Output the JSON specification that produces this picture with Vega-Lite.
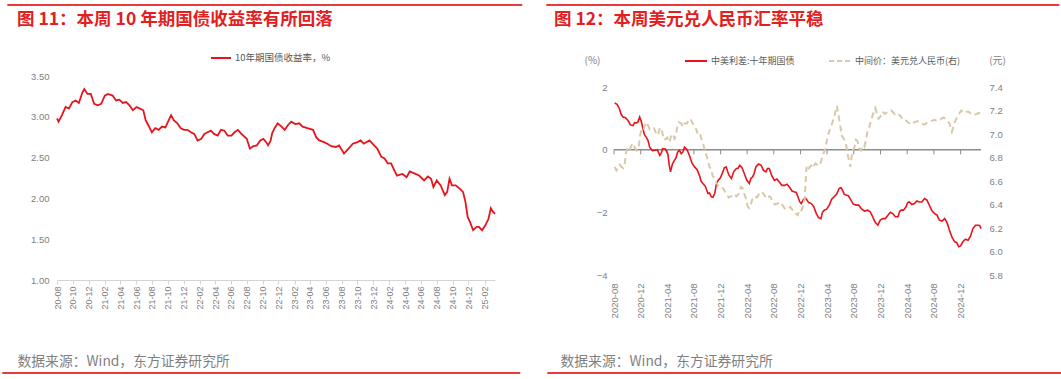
{
"$schema": "https://vega.github.io/schema/vega-lite/v6.json",
"padding": {"left": 2, "top": 4, "right": 0, "bottom": 0},
"background": "white",
"config": {"view": {"stroke": null}, "font": "Noto Sans CJK SC", "axis": {"labelFont": "Liberation Sans", "grid": false, "titleFont": "Noto Sans CJK SC", "titleFontWeight": "normal", "labelOverlap": false, "labelFlush": false}},
"resolve": {"scale": {"color": "independent", "x": "independent", "y": "independent"}, "legend": {"color": "independent"}},
"datasets": {
"cgb": [
{"d":"2020-08-01","v":2.98},{"d":"2020-08-07","v":2.94},{"d":"2020-08-20","v":3.02},{"d":"2020-09-03","v":3.12},{"d":"2020-09-16","v":3.10},{"d":"2020-09-29","v":3.18},{"d":"2020-10-12","v":3.20},{"d":"2020-10-24","v":3.17},{"d":"2020-11-07","v":3.30},{"d":"2020-11-14","v":3.34},{"d":"2020-11-26","v":3.28},{"d":"2020-12-09","v":3.28},{"d":"2020-12-22","v":3.16},{"d":"2021-01-05","v":3.14},{"d":"2021-01-18","v":3.16},{"d":"2021-02-01","v":3.26},{"d":"2021-02-13","v":3.28},{"d":"2021-03-03","v":3.26},{"d":"2021-03-16","v":3.20},{"d":"2021-03-29","v":3.21},{"d":"2021-04-11","v":3.17},{"d":"2021-04-24","v":3.18},{"d":"2021-05-07","v":3.14},{"d":"2021-05-20","v":3.08},{"d":"2021-06-03","v":3.12},{"d":"2021-06-16","v":3.10},{"d":"2021-06-29","v":3.08},{"d":"2021-07-08","v":2.96},{"d":"2021-07-18","v":2.90},{"d":"2021-08-01","v":2.81},{"d":"2021-08-14","v":2.86},{"d":"2021-08-27","v":2.84},{"d":"2021-09-09","v":2.88},{"d":"2021-09-22","v":2.87},{"d":"2021-10-05","v":2.96},{"d":"2021-10-14","v":3.02},{"d":"2021-10-24","v":2.96},{"d":"2021-11-07","v":2.92},{"d":"2021-11-20","v":2.86},{"d":"2021-12-03","v":2.84},{"d":"2021-12-16","v":2.84},{"d":"2021-12-29","v":2.81},{"d":"2022-01-11","v":2.79},{"d":"2022-01-24","v":2.71},{"d":"2022-02-07","v":2.73},{"d":"2022-02-19","v":2.79},{"d":"2022-03-03","v":2.81},{"d":"2022-03-16","v":2.83},{"d":"2022-03-28","v":2.79},{"d":"2022-04-11","v":2.77},{"d":"2022-04-24","v":2.84},{"d":"2022-05-07","v":2.83},{"d":"2022-05-20","v":2.77},{"d":"2022-06-03","v":2.77},{"d":"2022-06-15","v":2.81},{"d":"2022-06-28","v":2.84},{"d":"2022-07-11","v":2.79},{"d":"2022-08-01","v":2.73},{"d":"2022-08-13","v":2.61},{"d":"2022-08-26","v":2.64},{"d":"2022-09-09","v":2.65},{"d":"2022-09-22","v":2.71},{"d":"2022-10-04","v":2.73},{"d":"2022-10-17","v":2.68},{"d":"2022-10-22","v":2.65},{"d":"2022-11-01","v":2.71},{"d":"2022-11-07","v":2.80},{"d":"2022-11-16","v":2.86},{"d":"2022-11-28","v":2.92},{"d":"2022-12-13","v":2.88},{"d":"2022-12-25","v":2.84},{"d":"2023-01-07","v":2.90},{"d":"2023-01-19","v":2.94},{"d":"2023-02-04","v":2.91},{"d":"2023-02-19","v":2.92},{"d":"2023-03-04","v":2.88},{"d":"2023-03-22","v":2.86},{"d":"2023-04-13","v":2.84},{"d":"2023-04-25","v":2.75},{"d":"2023-05-07","v":2.71},{"d":"2023-05-25","v":2.69},{"d":"2023-06-07","v":2.67},{"d":"2023-06-22","v":2.64},{"d":"2023-07-10","v":2.63},{"d":"2023-07-22","v":2.65},{"d":"2023-08-10","v":2.55},{"d":"2023-08-25","v":2.60},{"d":"2023-09-13","v":2.67},{"d":"2023-10-01","v":2.69},{"d":"2023-10-13","v":2.71},{"d":"2023-10-25","v":2.67},{"d":"2023-11-16","v":2.71},{"d":"2023-12-04","v":2.65},{"d":"2023-12-16","v":2.61},{"d":"2024-01-01","v":2.51},{"d":"2024-01-13","v":2.49},{"d":"2024-01-25","v":2.43},{"d":"2024-02-07","v":2.43},{"d":"2024-02-19","v":2.35},{"d":"2024-03-01","v":2.28},{"d":"2024-03-22","v":2.30},{"d":"2024-04-07","v":2.26},{"d":"2024-04-19","v":2.33},{"d":"2024-05-04","v":2.31},{"d":"2024-05-25","v":2.28},{"d":"2024-06-13","v":2.22},{"d":"2024-06-28","v":2.27},{"d":"2024-07-10","v":2.24},{"d":"2024-07-19","v":2.14},{"d":"2024-08-01","v":2.22},{"d":"2024-08-16","v":2.16},{"d":"2024-09-01","v":2.04},{"d":"2024-09-10","v":2.08},{"d":"2024-09-19","v":2.24},{"d":"2024-09-28","v":2.16},{"d":"2024-10-13","v":2.16},{"d":"2024-10-28","v":2.12},{"d":"2024-11-10","v":2.08},{"d":"2024-11-19","v":1.96},{"d":"2024-11-28","v":1.77},{"d":"2024-12-07","v":1.71},{"d":"2024-12-19","v":1.61},{"d":"2025-01-01","v":1.65},{"d":"2025-01-10","v":1.65},{"d":"2025-01-22","v":1.61},{"d":"2025-02-04","v":1.67},{"d":"2025-02-16","v":1.75},{"d":"2025-02-25","v":1.88},{"d":"2025-03-04","v":1.84},{"d":"2025-03-13","v":1.81}
],
"spread": [
{"d":"2020-08-04","v":1.49},{"d":"2020-08-26","v":1.30},{"d":"2020-09-11","v":1.04},{"d":"2020-10-04","v":0.93},{"d":"2020-10-27","v":0.77},{"d":"2020-11-11","v":0.85},{"d":"2020-11-26","v":1.04},{"d":"2020-12-11","v":0.67},{"d":"2020-12-26","v":0.40},{"d":"2021-01-11","v":0.08},{"d":"2021-02-04","v":-0.02},{"d":"2021-02-26","v":-0.18},{"d":"2021-03-11","v":0.03},{"d":"2021-04-04","v":-0.13},{"d":"2021-04-16","v":-0.71},{"d":"2021-05-04","v":-0.34},{"d":"2021-05-19","v":-0.07},{"d":"2021-06-04","v":-0.13},{"d":"2021-06-19","v":0.08},{"d":"2021-07-11","v":-0.18},{"d":"2021-08-04","v":-0.55},{"d":"2021-08-26","v":-0.82},{"d":"2021-09-11","v":-1.08},{"d":"2021-10-04","v":-1.40},{"d":"2021-10-19","v":-1.50},{"d":"2021-11-04","v":-1.40},{"d":"2021-11-19","v":-0.98},{"d":"2021-12-11","v":-0.71},{"d":"2021-12-26","v":-0.55},{"d":"2022-01-19","v":-0.92},{"d":"2022-02-11","v":-0.60},{"d":"2022-02-26","v":-0.50},{"d":"2022-03-19","v":-0.76},{"d":"2022-04-11","v":-1.08},{"d":"2022-04-26","v":-0.87},{"d":"2022-05-11","v":-0.55},{"d":"2022-06-04","v":-0.50},{"d":"2022-06-26","v":-0.71},{"d":"2022-07-11","v":-0.60},{"d":"2022-08-04","v":-0.98},{"d":"2022-08-26","v":-1.03},{"d":"2022-09-19","v":-1.14},{"d":"2022-10-11","v":-1.19},{"d":"2022-11-04","v":-1.35},{"d":"2022-11-19","v":-1.50},{"d":"2022-12-04","v":-1.72},{"d":"2022-12-26","v":-1.56},{"d":"2023-01-19","v":-1.72},{"d":"2023-02-11","v":-2.04},{"d":"2023-03-04","v":-2.20},{"d":"2023-03-19","v":-1.93},{"d":"2023-04-11","v":-1.77},{"d":"2023-05-04","v":-1.50},{"d":"2023-05-26","v":-1.24},{"d":"2023-06-11","v":-1.30},{"d":"2023-06-26","v":-1.45},{"d":"2023-07-19","v":-1.61},{"d":"2023-08-11","v":-1.77},{"d":"2023-09-04","v":-1.88},{"d":"2023-10-04","v":-1.93},{"d":"2023-10-26","v":-2.14},{"d":"2023-11-19","v":-2.41},{"d":"2023-12-11","v":-2.20},{"d":"2024-01-04","v":-2.09},{"d":"2024-01-26","v":-2.04},{"d":"2024-02-19","v":-2.14},{"d":"2024-03-04","v":-1.93},{"d":"2024-03-26","v":-1.83},{"d":"2024-04-11","v":-1.67},{"d":"2024-05-04","v":-1.72},{"d":"2024-05-26","v":-1.67},{"d":"2024-06-19","v":-1.56},{"d":"2024-07-11","v":-1.77},{"d":"2024-08-04","v":-2.04},{"d":"2024-08-26","v":-2.25},{"d":"2024-09-19","v":-2.20},{"d":"2024-10-11","v":-2.57},{"d":"2024-11-04","v":-2.94},{"d":"2024-11-22","v":-3.10},{"d":"2024-12-11","v":-2.94},{"d":"2025-01-04","v":-2.89},{"d":"2025-01-26","v":-2.52},{"d":"2025-02-19","v":-2.41},{"d":"2025-03-04","v":-2.52},
{"d":"2020-08-15","v":1.45},{"d":"2020-09-03","v":1.12},{"d":"2020-09-22","v":1.02},{"d":"2020-10-15","v":0.79},{"d":"2020-11-03","v":0.86},{"d":"2020-11-18","v":0.88},{"d":"2020-12-03","v":0.92},{"d":"2020-12-18","v":0.48},{"d":"2021-01-03","v":0.30},{"d":"2021-01-23","v":-0.03},{"d":"2021-02-15","v":0.00},{"d":"2021-03-04","v":-0.12},{"d":"2021-03-23","v":0.02},{"d":"2021-04-10","v":-0.48},{"d":"2021-04-25","v":-0.45},{"d":"2021-05-11","v":-0.26},{"d":"2021-05-27","v":-0.02},{"d":"2021-06-11","v":-0.08},{"d":"2021-06-30","v":0.01},{"d":"2021-07-23","v":-0.42},{"d":"2021-08-15","v":-0.63},{"d":"2021-09-03","v":-1.01},{"d":"2021-09-22","v":-1.17},{"d":"2021-10-11","v":-1.38},{"d":"2021-10-27","v":-1.52},{"d":"2021-11-11","v":-1.12},{"d":"2021-11-30","v":-0.90},{"d":"2021-12-18","v":-0.58},{"d":"2022-01-07","v":-0.80},{"d":"2022-01-30","v":-0.70},{"d":"2022-02-18","v":-0.60},{"d":"2022-03-08","v":-0.57},{"d":"2022-03-30","v":-0.97},{"d":"2022-04-18","v":-0.92},{"d":"2022-05-03","v":-0.76},{"d":"2022-05-23","v":-0.46},{"d":"2022-06-15","v":-0.66},{"d":"2022-07-03","v":-0.60},{"d":"2022-07-23","v":-0.84},{"d":"2022-08-15","v":-0.94},{"d":"2022-09-07","v":-1.14},{"d":"2022-09-30","v":-1.10},{"d":"2022-10-23","v":-1.32},{"d":"2022-11-11","v":-1.36},{"d":"2022-11-27","v":-1.66},{"d":"2022-12-15","v":-1.58},{"d":"2023-01-07","v":-1.69},{"d":"2023-01-30","v":-1.82},{"d":"2023-02-21","v":-2.17},{"d":"2023-03-11","v":-2.00},{"d":"2023-03-30","v":-1.90},{"d":"2023-04-22","v":-1.58},{"d":"2023-05-15","v":-1.42},{"d":"2023-06-03","v":-1.21},{"d":"2023-06-18","v":-1.42},{"d":"2023-07-07","v":-1.47},{"d":"2023-07-30","v":-1.74},{"d":"2023-08-23","v":-1.77},{"d":"2023-09-19","v":-1.96},{"d":"2023-10-15","v":-1.98},{"d":"2023-11-07","v":-2.32},{"d":"2023-11-30","v":-2.25},{"d":"2023-12-23","v":-2.20},{"d":"2024-01-15","v":-2.00},{"d":"2024-02-07","v":-2.14},{"d":"2024-02-26","v":-1.98},{"d":"2024-03-15","v":-1.93},{"d":"2024-04-03","v":-1.69},{"d":"2024-04-22","v":-1.75},{"d":"2024-05-15","v":-1.64},{"d":"2024-06-07","v":-1.67},{"d":"2024-06-30","v":-1.61},{"d":"2024-07-23","v":-1.95},{"d":"2024-08-15","v":-2.09},{"d":"2024-09-07","v":-2.28},{"d":"2024-09-30","v":-2.33},{"d":"2024-10-23","v":-2.80},{"d":"2024-11-13","v":-2.96},{"d":"2024-12-01","v":-3.07},{"d":"2024-12-23","v":-2.86},{"d":"2025-01-15","v":-2.76},{"d":"2025-02-07","v":-2.41},{"d":"2025-02-26","v":-2.42}
],
"fx": [
{"d":"2020-08-04","v":6.72},{"d":"2020-08-19","v":6.71},{"d":"2020-09-04","v":6.72},{"d":"2020-09-19","v":6.75},{"d":"2020-10-01","v":6.88},{"d":"2020-10-19","v":6.90},{"d":"2020-11-04","v":6.88},{"d":"2020-11-22","v":6.89},{"d":"2020-12-04","v":7.03},{"d":"2020-12-19","v":7.07},{"d":"2021-01-04","v":7.07},{"d":"2021-01-19","v":7.05},{"d":"2021-02-11","v":7.00},{"d":"2021-02-26","v":7.05},{"d":"2021-03-11","v":7.00},{"d":"2021-03-26","v":6.96},{"d":"2021-04-07","v":6.93},{"d":"2021-04-19","v":6.99},{"d":"2021-05-04","v":6.96},{"d":"2021-05-16","v":7.05},{"d":"2021-06-04","v":7.09},{"d":"2021-06-19","v":7.09},{"d":"2021-07-11","v":7.13},{"d":"2021-07-26","v":7.09},{"d":"2021-08-19","v":7.00},{"d":"2021-09-04","v":6.96},{"d":"2021-09-19","v":6.86},{"d":"2021-10-11","v":6.72},{"d":"2021-10-26","v":6.64},{"d":"2021-11-11","v":6.59},{"d":"2021-12-04","v":6.55},{"d":"2021-12-26","v":6.49},{"d":"2022-01-19","v":6.47},{"d":"2022-02-11","v":6.47},{"d":"2022-03-04","v":6.55},{"d":"2022-03-19","v":6.49},{"d":"2022-04-04","v":6.38},{"d":"2022-04-19","v":6.41},{"d":"2022-05-04","v":6.47},{"d":"2022-05-26","v":6.49},{"d":"2022-06-19","v":6.48},{"d":"2022-07-11","v":6.47},{"d":"2022-07-26","v":6.42},{"d":"2022-08-19","v":6.41},{"d":"2022-09-11","v":6.39},{"d":"2022-10-04","v":6.37},{"d":"2022-10-26","v":6.35},{"d":"2022-11-11","v":6.32},{"d":"2022-11-26","v":6.35},{"d":"2022-12-11","v":6.38},{"d":"2022-12-20","v":6.45},{"d":"2022-12-28","v":6.72},{"d":"2023-01-04","v":6.69},{"d":"2023-01-19","v":6.73},{"d":"2023-01-26","v":6.71},{"d":"2023-02-19","v":6.73},{"d":"2023-03-11","v":6.81},{"d":"2023-04-01","v":6.95},{"d":"2023-04-19","v":7.06},{"d":"2023-05-04","v":7.15},{"d":"2023-05-16","v":7.24},{"d":"2023-05-26","v":7.13},{"d":"2023-06-07","v":6.99},{"d":"2023-06-19","v":6.95},{"d":"2023-07-04","v":6.83},{"d":"2023-07-16","v":6.72},{"d":"2023-07-26","v":6.86},{"d":"2023-08-11","v":6.95},{"d":"2023-08-26","v":6.88},{"d":"2023-09-11","v":6.90},{"d":"2023-09-26","v":6.95},{"d":"2023-10-11","v":7.06},{"d":"2023-10-26","v":7.16},{"d":"2023-11-07","v":7.22},{"d":"2023-11-22","v":7.13},{"d":"2023-12-11","v":7.19},{"d":"2024-01-04","v":7.19},{"d":"2024-02-04","v":7.17},{"d":"2024-02-26","v":7.16},{"d":"2024-03-11","v":7.12},{"d":"2024-04-04","v":7.10},{"d":"2024-05-04","v":7.10},{"d":"2024-06-04","v":7.09},{"d":"2024-07-04","v":7.10},{"d":"2024-08-04","v":7.12},{"d":"2024-09-04","v":7.13},{"d":"2024-09-26","v":7.12},{"d":"2024-10-11","v":7.09},{"d":"2024-10-22","v":7.02},{"d":"2024-11-04","v":7.10},{"d":"2024-11-19","v":7.16},{"d":"2024-12-04","v":7.20},{"d":"2024-12-26","v":7.19},{"d":"2025-01-19","v":7.17},{"d":"2025-02-11","v":7.17},{"d":"2025-03-04","v":7.17},
{"d":"2020-08-12","v":6.69},{"d":"2020-08-27","v":6.74},{"d":"2020-09-12","v":6.71},{"d":"2020-09-25","v":6.84},{"d":"2020-10-10","v":6.86},{"d":"2020-10-27","v":6.92},{"d":"2020-11-13","v":6.86},{"d":"2020-11-28","v":6.99},{"d":"2020-12-11","v":7.02},{"d":"2020-12-27","v":7.10},{"d":"2021-01-11","v":7.04},{"d":"2021-01-31","v":7.05},{"d":"2021-02-18","v":6.99},{"d":"2021-03-05","v":7.05},{"d":"2021-03-18","v":6.95},{"d":"2021-04-01","v":6.97},{"d":"2021-04-13","v":6.94},{"d":"2021-04-27","v":7.00},{"d":"2021-05-10","v":6.98},{"d":"2021-05-25","v":7.10},{"d":"2021-06-11","v":7.06},{"d":"2021-06-30","v":7.09},{"d":"2021-07-18","v":7.12},{"d":"2021-08-07","v":7.06},{"d":"2021-08-27","v":7.01},{"d":"2021-09-11","v":6.93},{"d":"2021-09-30","v":6.80},{"d":"2021-10-18","v":6.70},{"d":"2021-11-03","v":6.63},{"d":"2021-11-22","v":6.55},{"d":"2021-12-15","v":6.53},{"d":"2022-01-07","v":6.46},{"d":"2022-01-30","v":6.49},{"d":"2022-02-21","v":6.49},{"d":"2022-03-11","v":6.54},{"d":"2022-03-27","v":6.45},{"d":"2022-04-11","v":6.37},{"d":"2022-04-26","v":6.45},{"d":"2022-05-15","v":6.46},{"d":"2022-06-07","v":6.51},{"d":"2022-06-30","v":6.45},{"d":"2022-07-18","v":6.46},{"d":"2022-08-07","v":6.40},{"d":"2022-08-30","v":6.42},{"d":"2022-09-22","v":6.36},{"d":"2022-10-15","v":6.38},{"d":"2022-11-03","v":6.34},{"d":"2022-11-18","v":6.31},{"d":"2022-12-03","v":6.34},{"d":"2023-01-11","v":6.72},{"d":"2023-02-07","v":6.75},{"d":"2023-03-01","v":6.74},{"d":"2023-03-21","v":6.86},{"d":"2023-04-10","v":7.02},{"d":"2023-06-26","v":6.92},{"d":"2023-08-03","v":6.88},{"d":"2023-08-18","v":6.94},{"d":"2023-09-03","v":6.86},{"d":"2023-09-18","v":6.89},{"d":"2023-10-03","v":7.03},{"d":"2023-12-01","v":7.15},{"d":"2023-12-22","v":7.17},{"d":"2024-01-19","v":7.20},{"d":"2024-02-15","v":7.18},{"d":"2024-03-03","v":7.15},{"d":"2024-03-23","v":7.12},{"d":"2024-04-19","v":7.08},{"d":"2024-05-19","v":7.11},{"d":"2024-06-19","v":7.08},{"d":"2024-07-19","v":7.11},{"d":"2024-08-19","v":7.11},{"d":"2024-09-15","v":7.14},{"d":"2024-12-15","v":7.18},{"d":"2025-01-07","v":7.19},{"d":"2025-01-30","v":7.16},{"d":"2025-02-21","v":7.18}
],
"ticks": [
{"d":"2020-08-01"},{"d":"2020-12-01"},{"d":"2021-04-01"},{"d":"2021-08-01"},{"d":"2021-12-01"},{"d":"2022-04-01"},{"d":"2022-08-01"},{"d":"2022-12-01"},{"d":"2023-04-01"},{"d":"2023-08-01"},{"d":"2023-12-01"},{"d":"2024-04-01"},{"d":"2024-08-01"},{"d":"2024-12-01"}
],
"zero": [{"d":"2020-08-01","e":"2025-03-04"}],
"seg": [{"a": 0, "b": 1}]
},
"spacing": 23,
"hconcat": [
{
"resolve": {"scale": {"color": "independent", "x": "independent"}, "legend": {"color": "independent"}},
"spacing": 4,
"vconcat": [
{"width": 438, "height": 2, "data": {"name": "seg"}, "mark": {"type": "rect", "color": "#e8393b"}, "encoding": {"x": {"field": "a", "type": "quantitative", "scale": {"domain": [0.0965, 0.947], "nice": false, "zero": false}, "axis": null}, "x2": {"field": "b"}}},
{
"width": 438, "height": 204,
"title": {"text": "图 11：本周 10 年期国债收益率有所回落", "anchor": "start", "frame": "group", "dx": -40, "offset": 19, "fontSize": 17.5, "fontWeight": "bold", "color": "#e3201e", "font": "Noto Sans CJK SC"},
"data": {"name": "cgb"},
"mark": {"type": "line", "strokeWidth": 1.8, "color": "#e8141b"},
"encoding": {
"x": {"field": "d", "type": "temporal", "scale": {"domain": [{"year": 2020, "month": 8, "date": 1}, {"year": 2025, "month": 3, "date": 13}]},
"axis": {"values": [{"year":2020,"month":8,"date":1},{"year":2020,"month":10,"date":1},{"year":2020,"month":12,"date":1},{"year":2021,"month":2,"date":1},{"year":2021,"month":4,"date":1},{"year":2021,"month":6,"date":1},{"year":2021,"month":8,"date":1},{"year":2021,"month":10,"date":1},{"year":2021,"month":12,"date":1},{"year":2022,"month":2,"date":1},{"year":2022,"month":4,"date":1},{"year":2022,"month":6,"date":1},{"year":2022,"month":8,"date":1},{"year":2022,"month":10,"date":1},{"year":2022,"month":12,"date":1},{"year":2023,"month":2,"date":1},{"year":2023,"month":4,"date":1},{"year":2023,"month":6,"date":1},{"year":2023,"month":8,"date":1},{"year":2023,"month":10,"date":1},{"year":2023,"month":12,"date":1},{"year":2024,"month":2,"date":1},{"year":2024,"month":4,"date":1},{"year":2024,"month":6,"date":1},{"year":2024,"month":8,"date":1},{"year":2024,"month":10,"date":1},{"year":2024,"month":12,"date":1},{"year":2025,"month":2,"date":1}],
"format": "%y-%m", "labelAngle": -90, "labelFontSize": 9, "labelColor": "#808080", "domainColor": "#d4d4d4", "tickColor": "#d4d4d4", "tickSize": 4, "labelPadding": 2,
"title": "数据来源：Wind，东方证券研究所", "titleX": -40, "titleY": 81, "titleAlign": "left", "titleAnchor": "start", "titleBaseline": "middle", "titleFontSize": 13.8, "titleColor": "#7f7f7f"}},
"y": {"field": "v", "type": "quantitative", "scale": {"domain": [1, 3.5]}, "axis": {"values": [1, 1.5, 2, 2.5, 3, 3.5], "format": ".2f", "domain": false, "ticks": false, "labelPadding": 8, "title": null, "labelFontSize": 9.5, "labelColor": "#808080"}},
"color": {"datum": "10年期国债收益率，%", "scale": {"domain": ["10年期国债收益率，%"], "range": ["#e8141b"]}, "legend": {"orient": "none", "legendX": 153, "legendY": -29, "title": null, "symbolType": "stroke", "symbolSize": 400, "symbolStrokeWidth": 2, "labelOffset": 3, "labelFontSize": 9.5, "labelColor": "#595959", "labelFont": "Noto Sans CJK SC"}}
}
},
{"width": 438, "height": 2, "data": {"name": "seg"}, "mark": {"type": "rect", "color": "#e8393b"}, "encoding": {"x": {"field": "a", "type": "quantitative", "scale": {"domain": [0.1056, 0.9512], "nice": false, "zero": false}, "axis": null}, "x2": {"field": "b"}}}
]
},
{
"resolve": {"scale": {"color": "independent", "x": "independent"}, "legend": {"color": "independent"}},
"spacing": 4,
"vconcat": [
{"width": 367, "height": 2, "data": {"name": "seg"}, "mark": {"type": "rect", "color": "#e8393b"}, "encoding": {"x": {"field": "a", "type": "quantitative", "scale": {"domain": [0.132, 0.8474], "nice": false, "zero": false}, "axis": null}, "x2": {"field": "b"}}},
{
"width": 367, "height": 188,
"title": {"text": "图 12：本周美元兑人民币汇率平稳", "anchor": "start", "frame": "group", "dx": -60, "offset": 21, "fontSize": 17.5, "fontWeight": "bold", "color": "#e3201e", "font": "Noto Sans CJK SC"},
"encoding": {
"x": {"field": "d", "type": "temporal", "scale": {"domain": [{"year": 2020, "month": 8, "date": 1}, {"year": 2025, "month": 3, "date": 4}]},
"axis": {"values": [{"year":2020,"month":8,"date":1},{"year":2020,"month":12,"date":1},{"year":2021,"month":4,"date":1},{"year":2021,"month":8,"date":1},{"year":2021,"month":12,"date":1},{"year":2022,"month":4,"date":1},{"year":2022,"month":8,"date":1},{"year":2022,"month":12,"date":1},{"year":2023,"month":4,"date":1},{"year":2023,"month":8,"date":1},{"year":2023,"month":12,"date":1},{"year":2024,"month":4,"date":1},{"year":2024,"month":8,"date":1},{"year":2024,"month":12,"date":1}],
"format": "%Y-%m", "labelAngle": -90, "labelFontSize": 9.5, "labelColor": "#808080", "domain": false, "ticks": false, "labelPadding": 8, "labelOverlap": false, "labelSeparation": 0,
"title": "数据来源：Wind，东方证券研究所", "titleX": -54, "titleY": 86, "titleAlign": "left", "titleAnchor": "start", "titleBaseline": "middle", "titleFontSize": 13.8, "titleColor": "#7f7f7f"}}
},
"layer": [
{"layer": [
{"data": {"name": "zero"}, "mark": {"type": "rule", "color": "#8c8c8c", "strokeWidth": 1.5}, "encoding": {"x2": {"field": "e"}, "y": {"datum": 0}}},
{"data": {"name": "ticks"}, "mark": {"type": "rule", "color": "#8c8c8c", "strokeWidth": 1}, "encoding": {"y": {"datum": 0}, "y2": {"datum": -0.15}}},
{"data": {"name": "spread"}, "mark": {"type": "line", "strokeWidth": 1.6},
"encoding": {
"y": {"field": "v", "type": "quantitative", "scale": {"domain": [-4, 2]}, "axis": {"values": [-4, -3, -2, -1, 0, 1, 2], "format": "d", "domain": false, "ticks": false, "labelPadding": 7, "labelFontSize": 9.5, "labelColor": "#808080", "title": "(%)", "titleAngle": 0, "titleX": -22, "titleY": -27, "titleAlign": "center", "titleBaseline": "middle", "titleFontSize": 10, "titleColor": "#7f7f7f"}},
"color": {"datum": "中美利差:十年期国债", "scale": {"domain": ["中美利差:十年期国债", "中间价：美元兑人民币(右)"], "range": ["#e8141b", "#d8c9a8"]},
"legend": {"orient": "none", "legendX": 70, "legendY": -38, "direction": "horizontal", "title": null, "symbolType": "stroke", "symbolSize": 484, "symbolStrokeWidth": 2, "labelOffset": 3, "columnPadding": 30, "labelFontSize": 9, "labelColor": "#595959", "labelFont": "Noto Sans CJK SC",
"encode": {"symbols": {"update": {"strokeDash": {"signal": "datum.value === '中间价：美元兑人民币(右)' ? [5, 3] : [1, 0]"}}}}}}
}}
]},
{"data": {"name": "fx"}, "mark": {"type": "line", "strokeWidth": 2, "strokeDash": [6, 4]},
"encoding": {
"y": {"field": "v", "type": "quantitative", "scale": {"domain": [5.8, 7.4]}, "axis": {"orient": "right", "values": [5.8, 6.0, 6.2, 6.4, 6.6, 6.8, 7.0, 7.2, 7.4], "format": ".1f", "domain": false, "ticks": false, "labelPadding": 8, "labelFontSize": 9.5, "labelColor": "#808080", "title": "(元)", "titleAngle": 0, "titleX": 16, "titleY": -27, "titleAlign": "center", "titleBaseline": "middle", "titleFontSize": 10, "titleColor": "#7f7f7f"}},
"color": {"datum": "中间价：美元兑人民币(右)"}
}}
],
"resolve": {"scale": {"y": "independent"}}
},
{"width": 367, "height": 2, "data": {"name": "seg"}, "mark": {"type": "rect", "color": "#e8393b"}, "encoding": {"x": {"field": "a", "type": "quantitative", "scale": {"domain": [0.1295, 0.8421], "nice": false, "zero": false}, "axis": null}, "x2": {"field": "b"}}}
]
}
]
}
